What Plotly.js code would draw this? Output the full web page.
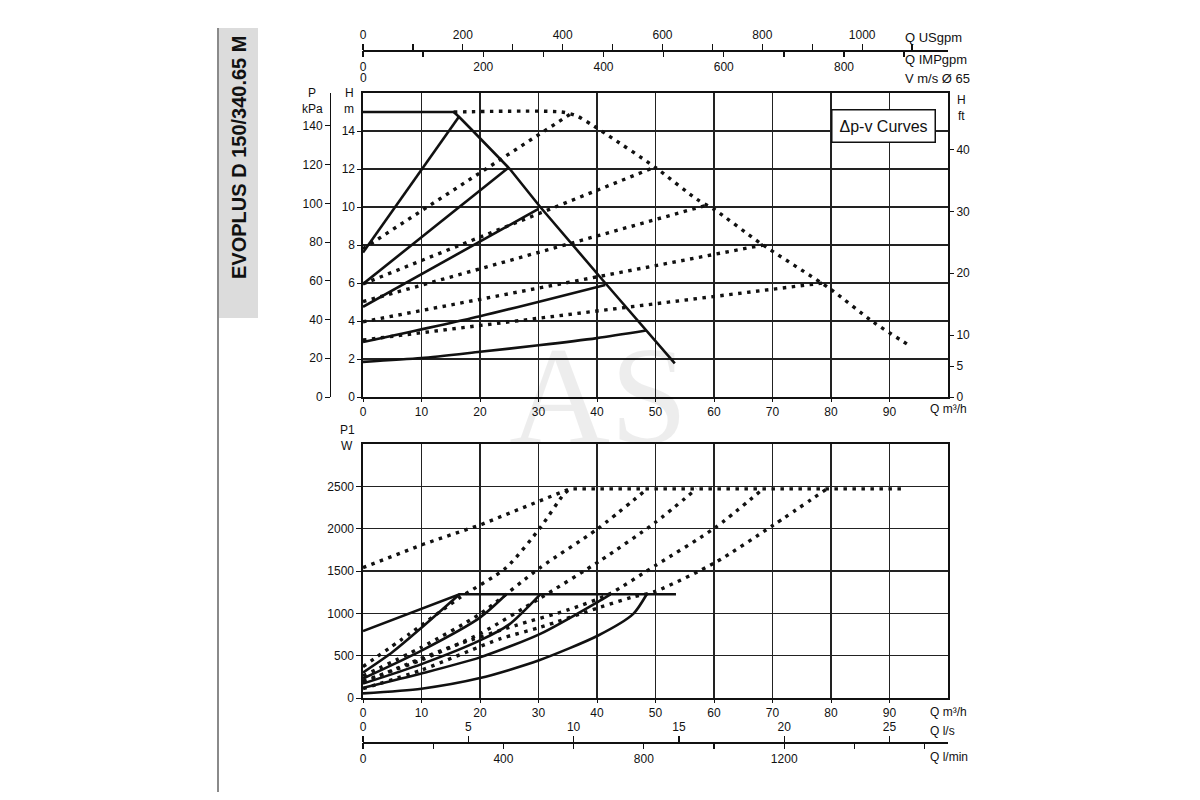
<!DOCTYPE html>
<html>
<head>
<meta charset="utf-8">
<script src="https://cdn.plot.ly/plotly-3.0.1.min.js"></script>
<style>
  html, body { margin: 0; padding: 0; background: #fff; }
  #chart { width: 1200px; height: 800px; }
</style>
</head>
<body>
<div id="chart"></div>
<script>
/* Δp-v curves, EVOPLUS D 150/340.65 M - head (top) and input power (bottom) vs flow */

const Q_MAX = 100;            // m3/h shown on the main axes
const KPA_PER_M = 9.81;
const FT_PER_M = 3.07;
const USGPM_PER_M3H = 11.72;
const IMPGPM_PER_M3H = 9.73;
const LS_PER_M3H = 1 / 3.6;
const LMIN_PER_M3H = 1000 / 60;

// ---- Top chart, head H [m] vs Q [m3/h]
// max curve, solid part (proportional pressure limit)
const maxSolidQ = [0, 15.5, 16.4, 17.5, 18.8, 25.1, 30.3, 41.4, 53.3];
const maxSolidH = [15, 15, 14.75, 14.42, 14.0, 12.0, 10.0, 6.0, 1.77];
// max curve, dotted part (max speed)
const maxDotQ = [15.5, 34, 36.5, 39, 42, 49.9, 57.1, 60.2, 67.9, 79.8, 87.2, 93.8];
const maxDotH = [15, 15, 14.8, 14.35, 13.75, 12.1, 10.4, 9.84, 8.1, 5.7, 3.95, 2.63];

// solid Δp-v set points
const headSolidQ = [
    [0, 16.4],
    [0, 24.8],
    [0, 30.0],
    [0, 20, 41.4],
    [0, 10, 20, 30, 40, 48.4]
];
const headSolidH = [
    [7.6, 14.75],
    [5.95, 12.05],
    [4.75, 9.9],
    [2.89, 4.25, 5.9],
    [1.85, 2.05, 2.38, 2.72, 3.1, 3.5]
];

// dotted Δp-v curves
const headDotQ = [
    [0, 35.5],
    [0, 49.9],
    [0, 58.8],
    [0, 68.4],
    [0, 78.6]
];
const headDotH = [
    [7.8, 14.9],
    [5.95, 12.1],
    [5.02, 10.1],
    [3.96, 8.0],
    [3.0, 6.0]
];

// ---- Bottom chart, input power P1 [W] vs Q [m3/h]
const powerMaxSolidQ = [0, 16.5, 53.5];
const powerMaxSolidP = [790, 1225, 1225];
const powerMaxDotQ = [0, 10.3, 20.3, 30.3, 35.3, 92.5];
const powerMaxDotP = [1540, 1816, 2051, 2326, 2470, 2470];

const powerSolidQ = [
    [0, 5, 10, 16.5],
    [0, 10, 20, 24.5],
    [0, 10, 20, 25, 30.3],
    [0, 10, 20, 30.3, 40.5, 42.3],
    [0, 10, 20, 30, 40.2, 46.2, 48.5]
];
const powerSolidP = [
    [300, 540, 830, 1225],
    [230, 560, 950, 1225],
    [170, 400, 680, 870, 1225],
    [120, 290, 480, 758, 1150, 1225],
    [55, 110, 235, 443, 738, 993, 1225]
];

const powerDotQ = [
    [0, 8, 16.6, 24.5, 30.3, 34.3, 35.3],
    [0, 10, 20, 30.3, 40, 48.5],
    [0, 10, 20, 30.3, 40.5, 49.9, 57],
    [0, 7.2, 15.7, 26, 35, 42, 49.9, 60.2, 68.4],
    [0, 10, 23.4, 30.3, 40.5, 45.9, 50, 60.2, 70.1, 79.3]
];
const powerDotP = [
    [370, 760, 1188, 1541, 2012, 2405, 2465],
    [260, 600, 993, 1541, 1993, 2465],
    [200, 450, 760, 1180, 1620, 2070, 2470],
    [180, 390, 620, 855, 1040, 1225, 1561, 2012, 2470],
    [110, 330, 698, 835, 1071, 1188, 1260, 1600, 2040, 2470]
];

// ---- Ticks and tick labels
const qTicks = [0, 10, 20, 30, 40, 50, 60, 70, 80, 90];
const hTicks = [0, 2, 4, 6, 8, 10, 12, 14];
const kpaTicks = [0, 20, 40, 60, 80, 100, 120, 140];
const ftTicks = [0, 5, 10, 20, 30, 40];
const wTicks = [0, 500, 1000, 1500, 2000, 2500];
const usTicks = [0, 100, 200, 300, 400, 500, 600, 700, 800, 900, 1000, 1100];
const usLabels = [0, 200, 400, 600, 800, 1000];
const impTicks = [0, 100, 200, 300, 400, 500, 600, 700, 800, 900];
const impLabels = [0, 200, 400, 600, 800];
const lsTicks = [0, 5, 10, 15, 20, 25];
const lsLabels = [0, 5, 10, 15, 20, 25];
const lminTicks = [0, 200, 400, 600, 800, 1000, 1200, 1400, 1600];
const lminLabels = [0, 400, 800, 1200];

// pixel -> paper helpers (layout placement only)
function px(x) { return x / 1200; }
function py(y) { return 1 - y / 800; }

const INK = '#111';
const FONT = 'Liberation Sans, Arial, sans-serif';

function curve(q, v, xa, ya, dotted, smooth) {
    let line = dotted ? {color: INK, width: 3.4, dash: '3.5px,5.5px'}
                      : {color: INK, width: 2.6};
    if (smooth) {
        line.shape = 'spline';
        line.smoothing = 0.7;
    }
    return {
        x: q, y: v, xaxis: xa, yaxis: ya,
        type: 'scatter', mode: 'lines', line: line,
        hoverinfo: 'skip', showlegend: false
    };
}

function emptyTrace(xa, ya) {
    return {x: [], y: [], xaxis: xa, yaxis: ya, type: 'scatter', mode: 'lines',
            hoverinfo: 'skip', showlegend: false};
}

let traces = [];
traces.push(curve(maxSolidQ, maxSolidH, 'x', 'y', false, false));
traces.push(curve(maxDotQ, maxDotH, 'x', 'y', true, true));
headSolidQ.forEach((q, i) => traces.push(curve(q, headSolidH[i], 'x', 'y', false, true)));
headDotQ.forEach((q, i) => traces.push(curve(q, headDotH[i], 'x', 'y', true, false)));

traces.push(curve(powerMaxSolidQ, powerMaxSolidP, 'x2', 'y4', false, false));
traces.push(curve(powerMaxDotQ, powerMaxDotP, 'x2', 'y4', true, false));
powerSolidQ.forEach((q, i) => traces.push(curve(q, powerSolidP[i], 'x2', 'y4', false, true)));
powerDotQ.forEach((q, i) => traces.push(curve(q, powerDotP[i], 'x2', 'y4', true, true)));

// secondary scales need a subplot to live on
traces.push(emptyTrace('x', 'y2'));
traces.push(emptyTrace('x', 'y3'));
traces.push(emptyTrace('x3', 'y'));
traces.push(emptyTrace('x4', 'y'));
traces.push(emptyTrace('x5', 'y4'));
traces.push(emptyTrace('x6', 'y4'));

const xDomain = [px(363), px(948)];
const topDomain = [py(397), py(93)];
const botDomain = [py(698), py(444)];

const tickFont = {family: FONT, size: 12, color: INK};

function mainX(anchor) {
    return {
        domain: xDomain, anchor: anchor, range: [0, Q_MAX],
        tickmode: 'array', tickvals: qTicks,
        ticks: 'outside', ticklen: 3, tickcolor: INK,
        showgrid: true, gridcolor: '#222', gridwidth: 1.3,
        showline: true, mirror: true, linecolor: INK, linewidth: 1.6,
        zeroline: false, tickfont: tickFont, fixedrange: true
    };
}

function secondaryX(over, range, vals, labels, side, pos, withLine) {
    return {
        overlaying: over, anchor: 'free', position: pos, side: side,
        range: range, tickmode: 'array', tickvals: vals,
        ticktext: vals.map(v => (labels.indexOf(v) >= 0 ? String(v) : '')),
        ticks: 'outside', ticklen: 6, tickwidth: 1.3, tickcolor: INK,
        showgrid: false, zeroline: false,
        showline: withLine, linecolor: INK, linewidth: 1.6,
        tickfont: tickFont, fixedrange: true
    };
}

function label(text, x, y, xanchor, size) {
    return {
        text: text, xref: 'paper', yref: 'paper', x: px(x), y: py(y),
        xanchor: xanchor || 'center', yanchor: 'middle', showarrow: false,
        font: {family: FONT, size: size || 12, color: INK}
    };
}

let annotations = [
    label('Q USgpm', 903, 38, 'left', 13),
    label('Q IMPgpm', 903, 60, 'left', 13),
    label('V m/s Ø 65', 903, 78, 'left', 13),
    label('0', 363, 78),
    label('P', 312, 93), label('kPa', 312, 109),
    label('H', 349, 93), label('m', 349, 109),
    label('H', 961, 100), label('ft', 961, 116),
    label('Q m³/h', 928, 409, 'left'),
    label('P1', 347, 430), label('W', 347, 446),
    label('Q m³/h', 928, 712, 'left'),
    label('Q l/s', 928, 731, 'left'),
    label('Q l/min', 928, 757, 'left'),
    {
        text: 'Δp-v Curves', xref: 'paper', yref: 'paper', x: px(883), y: py(126),
        xanchor: 'center', yanchor: 'middle', showarrow: false,
        font: {family: 'Liberation Sans Narrow, Liberation Sans, sans-serif', size: 16, color: INK},
        bgcolor: '#fff', bordercolor: INK, borderwidth: 1.5, borderpad: 7
    },
    {
        text: '<b>EVOPLUS D 150/340.65 M</b>', xref: 'paper', yref: 'paper',
        x: px(239), y: py(158), textangle: -90, showarrow: false,
        xanchor: 'center', yanchor: 'middle',
        font: {family: 'Liberation Sans Narrow, Liberation Sans, sans-serif', size: 20, color: INK}
    },
    {
        text: 'AS', xref: 'paper', yref: 'paper', x: px(598), y: py(395),
        xanchor: 'center', yanchor: 'middle', showarrow: false,
        font: {family: 'Liberation Serif, DejaVu Serif, serif', size: 140, color: 'rgba(0,0,0,0.07)'}
    }
];

const layout = {
    width: 1200, height: 800,
    margin: {l: 0, r: 0, t: 0, b: 0},
    paper_bgcolor: '#fff', plot_bgcolor: '#fff',
    showlegend: false,
    font: {family: FONT, size: 12, color: INK},

    xaxis: mainX('y'),
    yaxis: {
        domain: topDomain, anchor: 'x', range: [0, 16],
        tickmode: 'array', tickvals: hTicks,
        ticks: 'outside', ticklen: 4, tickcolor: INK,
        showgrid: true, gridcolor: '#222', gridwidth: 1.3,
        showline: true, mirror: true, linecolor: INK, linewidth: 1.6,
        zeroline: false, tickfont: tickFont, fixedrange: true
    },
    yaxis2: {
        overlaying: 'y', anchor: 'free', position: px(330), side: 'left',
        range: [0, 16 * KPA_PER_M], tickmode: 'array', tickvals: kpaTicks,
        ticks: 'outside', ticklen: 5, tickcolor: INK,
        showgrid: false, zeroline: false,
        showline: true, linecolor: INK, linewidth: 1.4,
        tickfont: tickFont, fixedrange: true
    },
    yaxis3: {
        overlaying: 'y', anchor: 'x', side: 'right',
        range: [0, 16 * FT_PER_M], tickmode: 'array', tickvals: ftTicks,
        ticks: 'outside', ticklen: 5, tickcolor: INK,
        showgrid: false, zeroline: false, showline: false,
        tickfont: tickFont, fixedrange: true
    },

    xaxis2: mainX('y4'),
    yaxis4: {
        domain: botDomain, anchor: 'x2', range: [0, 3000],
        tickmode: 'array', tickvals: wTicks,
        ticks: 'outside', ticklen: 5, tickcolor: INK,
        showgrid: true, gridcolor: '#222', gridwidth: 1.3,
        showline: true, mirror: true, linecolor: INK, linewidth: 1.6,
        zeroline: false, tickfont: tickFont, fixedrange: true
    },

    xaxis3: secondaryX('x', [0, Q_MAX * USGPM_PER_M3H], usTicks, usLabels, 'top', py(50), true),
    xaxis4: secondaryX('x', [0, Q_MAX * IMPGPM_PER_M3H], impTicks, impLabels, 'bottom', py(50), false),
    xaxis5: secondaryX('x2', [0, Q_MAX * LS_PER_M3H], lsTicks, lsLabels, 'top', py(742), true),
    xaxis6: secondaryX('x2', [0, Q_MAX * LMIN_PER_M3H], lminTicks, lminLabels, 'bottom', py(742), false),

    shapes: [
        {type: 'rect', xref: 'paper', yref: 'paper', x0: px(218), x1: px(258), y0: py(318), y1: py(28),
         fillcolor: '#dcdcdc', line: {width: 0}, layer: 'below'},
        {type: 'line', xref: 'paper', yref: 'paper', x0: px(218), x1: px(218), y0: py(792), y1: py(28),
         line: {color: '#8a8a8a', width: 2}}
    ],
    annotations: annotations
};

Plotly.newPlot('chart', traces, layout, {displayModeBar: false, staticPlot: true});
</script>
</body>
</html>
